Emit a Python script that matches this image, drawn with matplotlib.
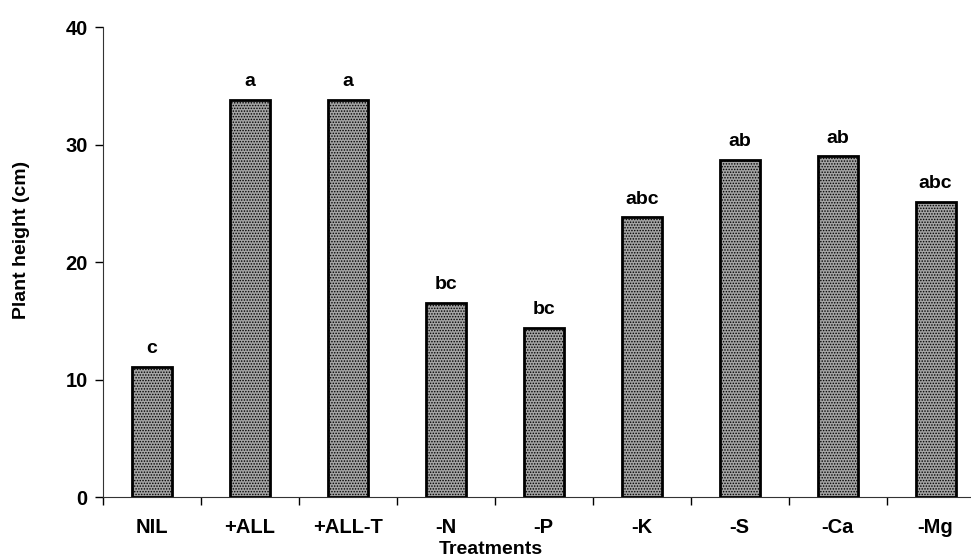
import matplotlib
matplotlib.use("Agg")
import matplotlib.pyplot as plt
import numpy as np

treatments = ["NIL", "+ALL", "+ALL-T", "-N", "-P", "-K", "-S", "-Ca", "-Mg"]
heights = [11.1, 33.8, 33.8, 16.5, 14.4, 23.8, 28.7, 29.0, 25.1]
letters = ["c", "a", "a", "bc", "bc", "abc", "ab", "ab", "abc"]

plt.rcParams["font.family"] = ["Liberation Sans", "DejaVu Sans"]
plt.rcParams["font.weight"] = "bold"
plt.rcParams["hatch.color"] = "#666666"
plt.rcParams["hatch.linewidth"] = 0.7

fig = plt.figure(figsize=(9.71, 5.58), dpi=100)
ax = fig.add_axes([0.106, 0.1093, 0.908, 0.842])

x = np.arange(len(treatments))
ax.bar(x, heights, width=0.41, color="#a4a4a4", edgecolor="black",
       linewidth=2, hatch="......")

for xi, h, lab in zip(x, heights, letters):
    ax.annotate(lab, (xi, h), xytext=(0, 7), textcoords="offset points",
                ha="center", va="bottom", fontsize=14, fontweight="bold")

ax.set_xlim(-0.5, len(treatments) - 0.5)
ax.set_ylim(0, 40)
ax.set_yticks([0, 10, 20, 30, 40])
ax.set_xticks(x)
ax.set_xticklabels(treatments)
ax.set_xticks(np.arange(-0.5, len(treatments)), minor=True)
ax.tick_params(axis="x", which="major", length=0, pad=15, labelsize=14.5)
ax.tick_params(axis="x", which="minor", length=6, width=1, direction="out")
ax.tick_params(axis="y", length=6, width=1, direction="out", labelsize=14.5, pad=5)
for t in ax.get_xticklabels() + ax.get_yticklabels():
    t.set_fontweight("bold")

ax.spines["top"].set_visible(False)
ax.spines["right"].set_visible(False)
ax.spines["left"].set_color("#333333")
ax.spines["bottom"].set_color("#333333")

fig.text(491 / 971, 1 - 550 / 558, "Treatments", ha="center", va="center",
         fontsize=14, fontweight="bold")
fig.text(22 / 971, 1 - 240 / 558, "Plant height (cm)", ha="center", va="center",
         rotation=90, fontsize=14, fontweight="bold")

fig.savefig("out.png", dpi=100)
